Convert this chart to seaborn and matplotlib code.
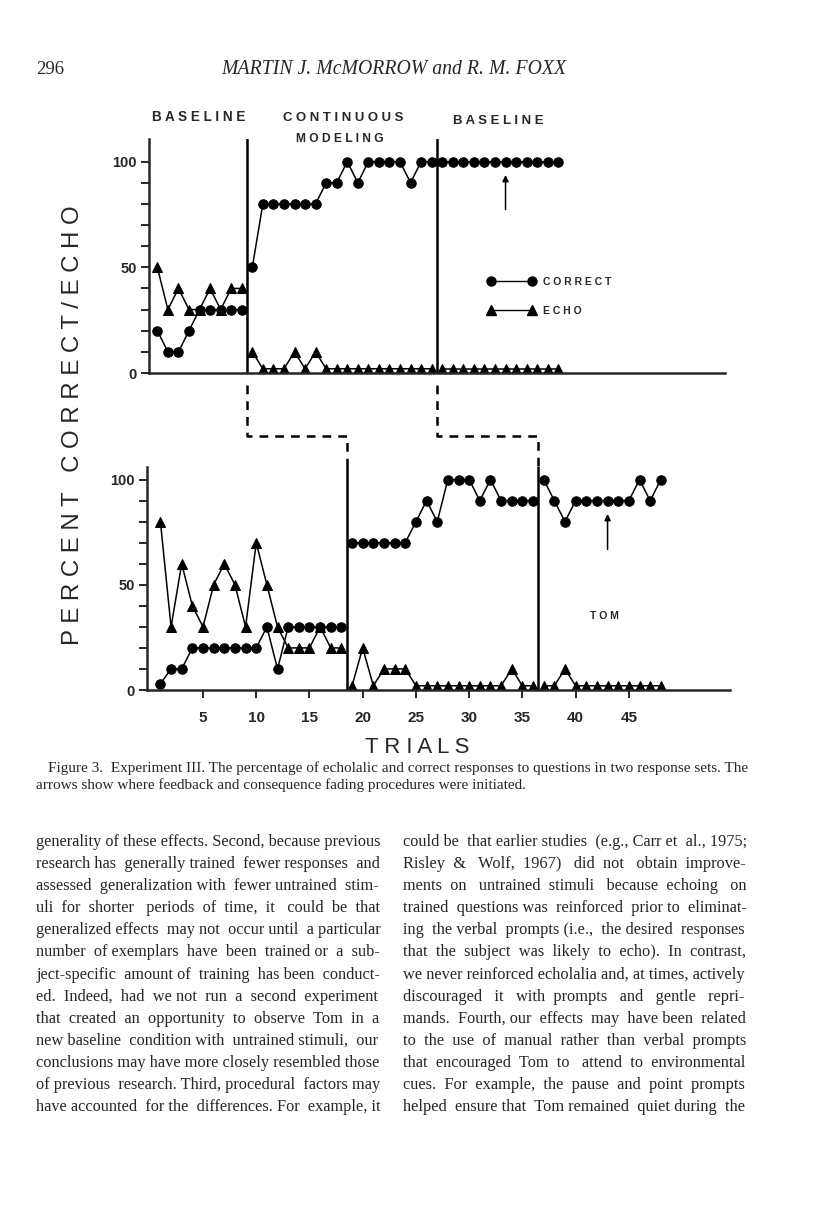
import numpy as np
import pandas as pd
import matplotlib
matplotlib.use('Agg')
import matplotlib.pyplot as plt
import seaborn as sns
from matplotlib.lines import Line2D


# 1. DATA (percent per trial, Tom)
# response set 1 (upper panel)
top_correct = [20, 10, 10, 20, 30, 30, 30, 30, 30,
               50, 80, 80, 80, 80, 80, 80, 90, 90, 100, 90, 100, 100, 100, 100, 90, 100, 100,
               100, 100, 100, 100, 100, 100, 100, 100, 100, 100, 100, 100]
top_echo = [50, 30, 40, 30, 30, 40, 30, 40, 40,
            10, 2, 2, 2, 10, 2, 10, 2, 2, 2, 2, 2, 2, 2, 2, 2, 2, 2,
            2, 2, 2, 2, 2, 2, 2, 2, 2, 2, 2, 2]
top_phase_changes = [9.5, 27.5]
top_arrow_trial = 34

# response set 2 (lower panel)
bottom_correct = [3, 10, 10, 20, 20, 20, 20, 20, 20, 20, 30, 10, 30, 30, 30, 30, 30, 30,
                  70, 70, 70, 70, 70, 70, 80, 90, 80, 100, 100, 100, 90, 100, 90, 90, 90, 90,
                  100, 90, 80, 90, 90, 90, 90, 90, 90, 100, 90, 100]
bottom_echo = [80, 30, 60, 40, 30, 50, 60, 50, 30, 70, 50, 30, 20, 20, 20, 30, 20, 20,
               2, 20, 2, 10, 10, 10, 2, 2, 2, 2, 2, 2, 2, 2, 2, 10, 2, 2,
               2, 2, 10, 2, 2, 2, 2, 2, 2, 2, 2, 2]
bottom_phase_changes = [18.5, 36.5]
bottom_arrow_trial = 43

x_ticks = [5, 10, 15, 20, 25, 30, 35, 40, 45]
y_ticks = [0, 10, 20, 30, 40, 50, 60, 70, 80, 90, 100]
y_tick_labels = ['0', '', '', '', '', '50', '', '', '', '', '100']
phase_names = ['B A S E L I N E', 'C O N T I N U O U S', 'M O D E L I N G', 'B A S E L I N E']
legend_labels = ['C O R R E C T', 'E C H O']

header_page = '296'
header_title = 'MARTIN J. McMORROW and R. M. FOXX'
caption_lines = [
    'Figure 3.  Experiment III. The percentage of echolalic and correct responses to questions in two response sets. The',
    'arrows show where feedback and consequence fading procedures were initiated.',
]
left_column = [
    'generality of these effects. Second, because previous',
    'research has generally trained fewer responses and',
    'assessed generalization with fewer untrained stim-',
    'uli for shorter periods of time, it could be that',
    'generalized effects may not occur until a particular',
    'number of exemplars have been trained or a sub-',
    'ject-specific amount of training has been conduct-',
    'ed. Indeed, had we not run a second experiment',
    'that created an opportunity to observe Tom in a',
    'new baseline condition with untrained stimuli, our',
    'conclusions may have more closely resembled those',
    'of previous research. Third, procedural factors may',
    'have accounted for the differences. For example, it',
]
right_column = [
    'could be that earlier studies (e.g., Carr et al., 1975;',
    'Risley & Wolf, 1967) did not obtain improve-',
    'ments on untrained stimuli because echoing on',
    'trained questions was reinforced prior to eliminat-',
    'ing the verbal prompts (i.e., the desired responses',
    'that the subject was likely to echo). In contrast,',
    'we never reinforced echolalia and, at times, actively',
    'discouraged it with prompts and gentle repri-',
    'mands. Fourth, our effects may have been related',
    'to the use of manual rather than verbal prompts',
    'that encouraged Tom to attend to environmental',
    'cues. For example, the pause and point prompts',
    'helped ensure that Tom remained quiet during the',
]


def long_form(correct, echo, changes):
    trial = np.arange(1, len(correct) + 1)
    df = pd.DataFrame({'trial': trial, 'phase': np.searchsorted(changes, trial),
                       'Correct': correct, 'Echo': echo})
    return df.melt(id_vars=['trial', 'phase'], var_name='measure', value_name='pct')


top_df = long_form(top_correct, top_echo, top_phase_changes)
bottom_df = long_form(bottom_correct, bottom_echo, bottom_phase_changes)

# 2. FIGURE / PAGE SETUP
sns.set_style('ticks')
plt.rcParams['font.family'] = ['Liberation Sans', 'DejaVu Sans']
W, H = 816, 1219
fig = plt.figure(figsize=(W / 100, H / 100), dpi=100)
renderer = fig.canvas.get_renderer()


def box(l, t, r, b):
    return [l / W, 1 - b / H, (r - l) / W, (b - t) / H]


def fit_text(s, x0, x1, y, size=10, **kw):
    # place text so that it spans x0..x1 pixels on the page
    t = fig.text(x0 / W, 1 - y / H, s, fontsize=size, ha='left', va='baseline', **kw)
    w = t.get_window_extent(renderer).width
    t.set_fontsize(size * (x1 - x0) / w)
    return t


def text_width(s, size, **kw):
    t = fig.text(0, 0, s, fontsize=size, **kw)
    w = t.get_window_extent(renderer).width
    t.remove()
    return w


def justify(s, x0, x1, y, size, **kw):
    # widen the word gaps with extra spaces, then a tiny size tweak to hit the margin
    words = s.split(' ')
    gaps = len(words) - 1
    extra = int(round((x1 - x0 - text_width(s, size, **kw)) / text_width(' ', size, **kw)))
    extra = max(extra, 0)
    counts = [1] * gaps
    for k in range(extra):
        counts[int((k * gaps) / max(extra, 1) + 0.5 * gaps / max(extra, 1)) % gaps] += 1
    line = words[0] + ''.join(' ' * c + w for c, w in zip(counts, words[1:]))
    return fit_text(line, x0, x1, y, size=size, **kw)


ax_top = fig.add_axes(box(149, 139, 725, 373))
ax_bot = fig.add_axes(box(147, 467, 730, 690))

# 3. PANELS
line_kw = dict(x='trial', y='pct', style='measure', units='phase', estimator=None,
               markers={'Correct': 'o', 'Echo': '^'}, dashes=False, color='black',
               lw=1.1, markersize=6.8, mec='black', legend=False, sort=False)
sns.lineplot(data=top_df, ax=ax_top, **line_kw)
sns.lineplot(data=bottom_df, ax=ax_bot, **line_kw)

ax_top.set_xlim(0.21, 54.8)
ax_top.set_ylim(0, 110.7)
ax_bot.set_xlim(-0.26, 54.5)
ax_bot.set_ylim(0, 106)

for ax, changes in [(ax_top, top_phase_changes), (ax_bot, bottom_phase_changes)]:
    for x in changes:
        ax.axvline(x, color='black', lw=1.8)
    ax.set_yticks(y_ticks)
    ax.set_yticklabels(y_tick_labels)
    ax.set_xlabel('')
    ax.set_ylabel('')
    ax.tick_params(axis='y', direction='out', length=6, width=1.4, pad=3, labelsize=10.5)
    for lab in ax.get_yticklabels():
        lab.set_fontweight('bold')
    sns.despine(ax=ax)
    for sp in ['left', 'bottom']:
        ax.spines[sp].set_linewidth(1.8)
    ax.patch.set_alpha(0)

ax_top.set_xticks([])
ax_bot.set_xticks(x_ticks)
ax_bot.tick_params(axis='x', direction='out', length=6, width=1.4, pad=9, labelsize=11)
for lab in ax_bot.get_xticklabels():
    lab.set_fontweight('bold')

# arrows where feedback / fading started
ax_top.annotate('', xy=(top_arrow_trial, 95), xytext=(top_arrow_trial, 76),
                arrowprops=dict(arrowstyle='-|>', color='black', lw=1.1, mutation_scale=9))
ax_bot.annotate('', xy=(bottom_arrow_trial, 85), xytext=(bottom_arrow_trial, 65.5),
                arrowprops=dict(arrowstyle='-|>', color='black', lw=1.1, mutation_scale=9))
ax_bot.text(42.7, 35, 'T O M', ha='center', va='center', fontsize=7.5, fontweight='bold')

# legend (marker - line - marker)
handles = [Line2D([], [], color='black', marker='o', lw=1, markersize=6.5),
           Line2D([], [], color='black', marker='^', lw=1, markersize=7)]
ax_top.legend(handles, legend_labels, numpoints=2, frameon=False, loc='upper left',
              bbox_to_anchor=(487.6 / W, 1 - 277 / H), bbox_transform=fig.transFigure,
              borderaxespad=0, borderpad=0, handlelength=4.6, handletextpad=0.7,
              labelspacing=1.8, prop={'size': 7.5, 'weight': 'bold'})

# dashed connectors between phase lines of the two panels
fig.canvas.draw()
y_a = ax_top.get_position().y0 * H - 12
y_b = 1219 - 436
y_c = ax_bot.get_position().y1 * H
for xt, xb in zip(top_phase_changes, bottom_phase_changes):
    px_t = ax_top.transData.transform((xt, 0))[0]
    px_b = ax_bot.transData.transform((xb, 0))[0]
    fig.add_artist(Line2D([px_t / W, px_t / W, px_b / W, px_b / W],
                          [y_a / H, y_b / H, y_b / H, y_c / H],
                          transform=fig.transFigure, color='black', lw=1.8,
                          ls=(0, (3.5, 2.8))))

# 4. PAGE TEXT
fit_text(phase_names[0], 152, 245, 121, fontweight='bold')
fit_text(phase_names[1], 283, 404, 121, fontweight='bold')
fit_text(phase_names[2], 296, 384, 142, fontweight='bold')
fit_text(phase_names[3], 453, 543, 124, fontweight='bold')

ylab = fig.text(73 / W, 1 - 425 / H, 'P E R C E N T   C O R R E C T / E C H O',
                rotation=90, ha='center', va='center', fontsize=16)
ylab.set_fontsize(16 * 440 / ylab.get_window_extent(renderer).height)

fit_text('T R I A L S', 365, 470, 753)

serif = dict(family=['Liberation Serif', 'DejaVu Serif'])
fig.text(36 / W, 1 - 74 / H, header_page, fontsize=13.5, ha='left', va='baseline', **serif)
fit_text(header_title, 221, 565, 74, style='italic', **serif)

cap = fit_text(caption_lines[0], 48, 746, 772, **serif)
fig.text(36 / W, 1 - 789 / H, caption_lines[1], fontsize=cap.get_fontsize(),
         ha='left', va='baseline', **serif)

# one body size for both columns: the widest line has to fit its column
body_size = 10 * min(min(344 / text_width(s, 10, **serif) for s in left_column),
                     min(343 / text_width(s, 10, **serif) for s in right_column))
for i, (l_line, r_line) in enumerate(zip(left_column, right_column)):
    y = 846 + i * 22.1
    justify(l_line, 36, 380, y, body_size, **serif)
    justify(r_line, 403, 746, y, body_size, **serif)

fig.savefig('out.png', dpi=100)
